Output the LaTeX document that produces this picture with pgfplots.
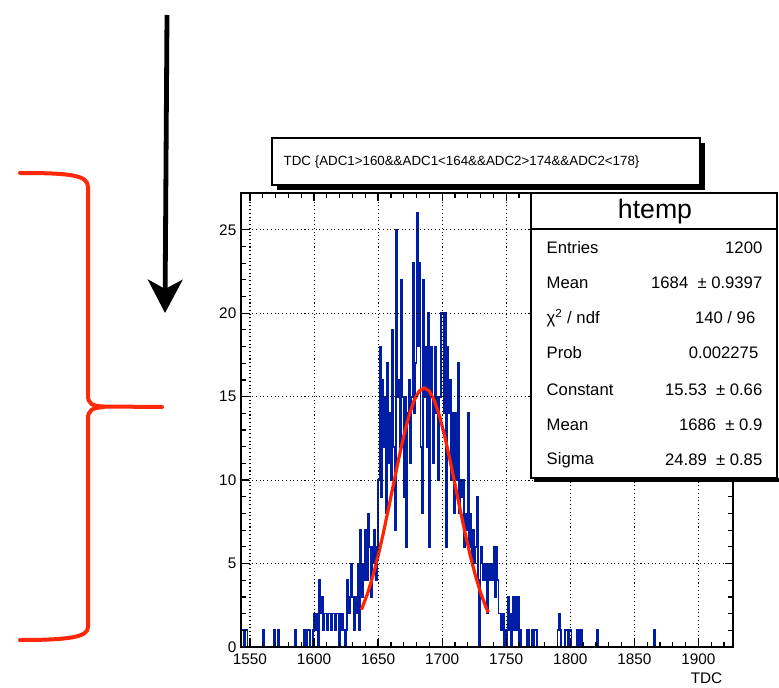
\documentclass[border=0pt]{standalone}
\usepackage{pgfplots}
\pgfplotsset{compat=1.18}
\usepackage{pgfplotstable}
\usepackage{fontspec}
\setmainfont{Liberation Sans}
\usetikzlibrary{arrows.meta}

\definecolor{histblue}{RGB}{0,30,165}
\definecolor{fitred}{RGB}{255,35,0}
\definecolor{bracered}{RGB}{255,40,10}

% TDC histogram, 1-unit bins: bin low edge and entries (runs of empty bins start with a 0)
\pgfplotstableread{
x y
1543 1
1544 1
1545 0
1546 1
1547 1
1548 0
1560 1
1561 0
1569 1
1570 0
1572 1
1573 0
1585 1
1586 0
1592 1
1593 1
1594 0
1595 1
1596 1
1597 0
1599 1
1600 2
1601 1
1602 2
1603 0
1604 4
1605 2
1606 3
1607 1
1608 2
1609 2
1610 1
1611 2
1612 2
1613 1
1614 2
1615 2
1616 1
1617 2
1618 2
1619 0
1620 2
1621 1
1622 2
1623 1
1624 0
1625 1
1626 4
1627 2
1628 3
1629 5
1630 3
1631 1
1632 3
1633 2
1634 5
1635 1
1636 7
1637 3
1638 5
1639 4
1640 7
1641 4
1642 8
1643 6
1644 3
1645 6
1646 5
1647 7
1648 4
1649 6
1650 10
1651 18
1652 9
1653 16
1654 12
1655 15
1656 8
1657 17
1658 11
1659 14
1660 10
1661 19
1662 12
1663 7
1664 25
1665 15
1666 16
1667 12
1668 22
1669 15
1670 9
1671 15
1672 6
1673 14
1674 16
1675 11
1676 15
1677 23
1678 14
1679 17
1680 26
1681 18
1682 23
1683 12
1684 8
1685 22
1686 15
1687 18
1688 12
1689 20
1690 6
1691 18
1692 15
1693 11
1694 18
1695 14
1696 15
1697 10
1698 15
1699 20
1700 20
1701 14
1702 20
1703 6
1704 18
1705 14
1706 16
1707 10
1708 14
1709 8
1710 14
1711 10
1712 17
1713 8
1714 10
1715 9
1716 10
1717 6
1718 8
1719 7
1720 14
1721 6
1722 8
1723 5
1724 7
1725 5
1726 6
1727 9
1728 4
1729 0
1730 6
1731 5
1732 4
1733 5
1734 4
1735 2
1736 5
1737 4
1738 5
1739 4
1740 6
1741 3
1742 6
1743 4
1744 2
1745 2
1746 1
1747 2
1748 0
1749 1
1750 0
1751 3
1752 1
1753 2
1754 0
1755 3
1756 1
1757 3
1758 1
1759 3
1760 0
1761 1
1762 0
1766 1
1767 1
1768 0
1770 1
1771 0
1772 1
1773 1
1774 0
1790 1
1791 2
1792 1
1793 0
1796 1
1797 1
1798 0
1799 1
1800 1
1801 0
1805 1
1806 1
1807 0
1808 1
1809 0
1821 1
1822 0
1865 1
1866 0
1927 0
}\tdcdata

\begin{document}
\begin{tikzpicture}[x=0.75pt,y=0.75pt]
\useasboundingbox (0,0) rectangle (779,687);

% downward arrow
\draw[line width=3.6pt, -{Stealth[length=25pt,width=26pt,inset=7pt]}] (167,672) -- (165,374);

% red brace
\draw[bracered, line width=3pt, line cap=round, line join=round]
  (20,514) .. controls (70,514) and (88,512) .. (88,500) -- (88,292)
  .. controls (88,283) and (92,281) .. (104,280.5) -- (162,280);
\draw[bracered, line width=3pt, line cap=round, line join=round]
  (104,280) .. controls (92,279) and (88,277) .. (88,268) -- (88,60)
  .. controls (88,50) and (70,47) .. (20,47);

\begin{axis}[
  at={(180.75pt,30pt)}, anchor=south west, scale only axis,
  width=369pt, height=340.5pt,
  xmin=1543, xmax=1927, ymin=0, ymax=27.2,
  xtick distance=50, ytick distance=5,
  minor x tick num=4, minor y tick num=4,
  tick align=inside, major tick length=6pt, minor tick length=3.5pt,
  grid=major,
  major grid style={black, line width=0.8pt, dash pattern=on 0.8pt off 2pt},
  axis line style={line width=1.2pt},
  every tick/.style={black, line width=0.9pt},
  tick label style={font=\fontsize{11.5}{12}\selectfont},
  xticklabel style={yshift=-1.5pt},
  /pgf/number format/assume math mode=true,
  /pgf/number format/1000 sep={},
  axis on top,
]
\addplot[const plot, histblue, line width=1.3pt] table {\tdcdata};
% Gaussian fit: Constant 15.53, Mean 1686, Sigma 24.89
\addplot[fitred, line width=2.4pt, line join=round] coordinates {
(1637,2.236) (1642,3.255) (1646,4.270) (1650,5.456) (1654,6.796)
(1658,8.248) (1662,9.756) (1666,11.245) (1670,12.630) (1674,13.826)
(1678,14.749) (1682,15.331) (1686,15.530) (1690,15.331) (1694,14.749)
(1698,13.826) (1702,12.630) (1706,11.245) (1710,9.756) (1714,8.248)
(1718,6.796) (1722,5.456) (1726,4.270) (1730,3.255) (1734,2.418)
(1736,2.064)};
\end{axis}

\node[anchor=east, font=\fontsize{11.5}{12}\selectfont] at (727,9) {TDC};

% title box
\fill[black] (277,497) rectangle (705,544);
\draw[fill=white, line width=0.8pt] (272,502) rectangle (700,549);
\node[anchor=west, font=\fontsize{10}{12}\selectfont] at (279,525)
  {TDC \{ADC1>160\&\&ADC1<164\&\&ADC2>174\&\&ADC2<178\}};

% statistics box
\fill[black] (534,205) rectangle (780,209);
\draw[fill=white, line width=0.8pt] (531,209) rectangle (777,494);
\draw[line width=0.8pt] (531,458) -- (777,458);
\node[font=\fontsize{20}{22}\selectfont] at (655,475) {htemp};
\begin{scope}[every node/.style={font=\fontsize{12.5}{14}\selectfont}]
\node[anchor=west] at (542,439) {Entries};
\node[anchor=east] at (767,439) {1200};
\node[anchor=west] at (542,404) {Mean};
\node[anchor=east] at (767,404) {1684\ \ ± 0.9397};
\node[anchor=west] at (542,369) {χ\textsuperscript{2} / ndf};
\node[anchor=east] at (760,369) {140 / 96};
\node[anchor=west] at (542,334) {Prob};
\node[anchor=east] at (763,334) {0.002275};
\node[anchor=west] at (542,297) {Constant};
\node[anchor=east] at (767,297) {15.53\ \ ± 0.66};
\node[anchor=west] at (542,262) {Mean};
\node[anchor=east] at (767,262) {1686\ \ ± 0.9};
\node[anchor=west] at (542,227) {Sigma};
\node[anchor=east] at (767,227) {24.89\ \ ± 0.85};
\end{scope}
\end{tikzpicture}
\end{document}
